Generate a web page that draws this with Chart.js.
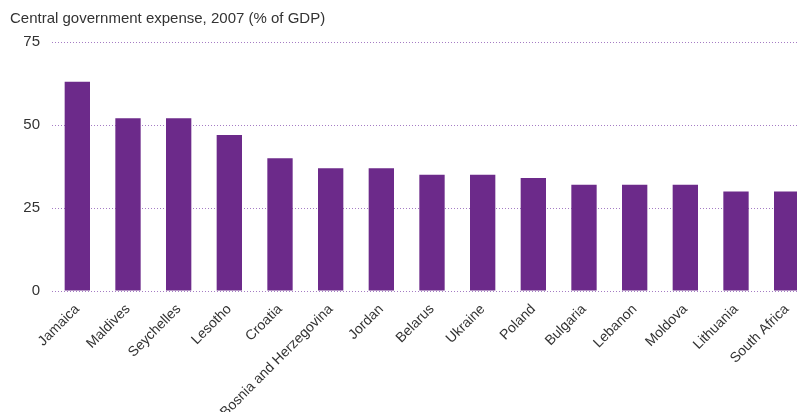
<!DOCTYPE html>
<html><head><meta charset="utf-8">
<script src="https://cdn.jsdelivr.net/npm/chart.js@4"></script>
<style>html,body{margin:0;padding:0;overflow:hidden;background:#fff}#wrap{width:815px;height:412px}</style>
</head><body><div id="wrap"><canvas id="c"></canvas></div>
<script>
const categories = ["Jamaica","Maldives","Seychelles","Lesotho","Croatia","Bosnia and Herzegovina","Jordan","Belarus","Ukraine","Poland","Bulgaria","Lebanon","Moldova","Lithuania","South Africa"];
const expense = [63,52,52,47,40,37,37,35,35,34,32,32,32,30,30];
const yTicks = [0,25,50,75];
const titleText = "Central government expense, 2007 (% of GDP)";

const FONT = "'Liberation Sans', Arial, sans-serif";
new Chart(document.getElementById('c'), {
  type: 'bar',
  data: { labels: categories, datasets: [{ data: expense, backgroundColor: '#6c2a8a', barPercentage: 0.5, categoryPercentage: 1.0 }] },
  options: {
    responsive: true, maintainAspectRatio: false, animation: false,
    layout: { padding: { left: 10, right: 3, top: 10, bottom: 0 } },
    plugins: {
      legend: { display: false }, tooltip: { enabled: false },
      title: { display: true, text: titleText, align: 'start', color: '#333', font: { family: FONT, size: 15, weight: 'normal' }, padding: { top: 0, bottom: 14 } }
    },
    scales: {
      x: {
        grid: { display: false }, border: { display: false },
        ticks: { color: '#333', font: { family: FONT, size: 14 }, minRotation: 45, maxRotation: 45, autoSkip: false, padding: 2 },
        afterFit: s => { s.height = 121; }
      },
      y: {
        min: 0, max: 75,
        afterBuildTicks: s => { s.ticks = yTicks.map(v => ({ value: v })); },
        grid: { color: '#a57cc4', lineWidth: 1, drawTicks: false },
        border: { display: false, dash: [1,2] },
        ticks: { color: '#333', font: { family: FONT, size: 15 }, padding: 12 },
        afterFit: s => { s.width = 42; }
      }
    }
  }
});
</script></body></html>
